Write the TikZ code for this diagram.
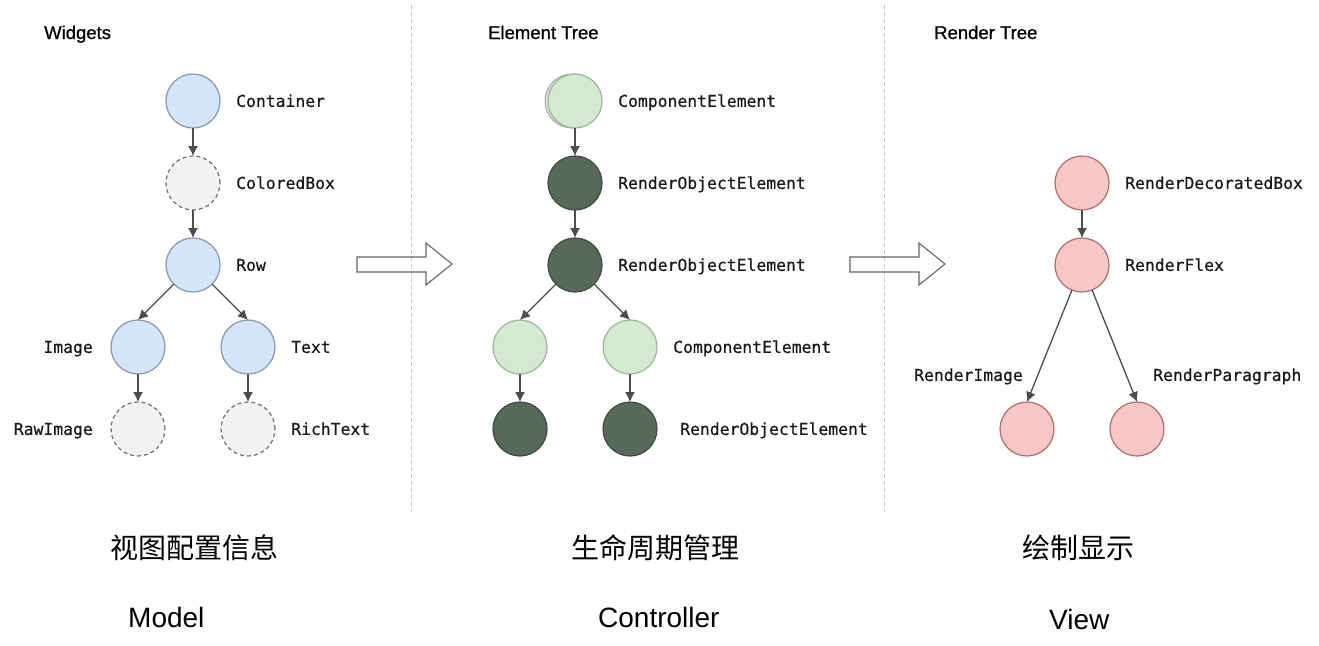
\documentclass[tikz,border=0pt]{standalone}
\usepackage{fontspec}
\setmainfont{Liberation Sans}
\setmonofont[FakeBold=0.6]{DejaVu Sans Mono}
\newfontfamily\titlefont[FakeBold=0.8]{Liberation Sans}
\newfontfamily\cjk{Noto Sans CJK SC}
\usetikzlibrary{arrows.meta}
\definecolor{wblue}{HTML}{D4E4FA}
\definecolor{wblueline}{HTML}{8797AE}
\definecolor{ghostfill}{HTML}{F2F2F2}
\definecolor{ghostline}{HTML}{707070}
\definecolor{elight}{HTML}{D4E8D2}
\definecolor{elightline}{HTML}{9BB899}
\definecolor{edark}{HTML}{58695A}
\definecolor{edarkline}{HTML}{3E4B3F}
\definecolor{rpink}{HTML}{F5C7C6}
\definecolor{rpinkline}{HTML}{B46C6B}
\definecolor{edgegray}{HTML}{4D4D4D}
\definecolor{sepgray}{HTML}{C8C8C8}
\tikzset{
	node/.style     = {circle, minimum size = 54pt, inner sep = 0pt,
		outer sep = 0pt, line width = 1.2pt},
	widget/.style   = {node, draw = wblueline, fill = wblue},
	ghost/.style    = {node, draw = ghostline, fill = ghostfill,
		dash pattern = on 4pt off 3pt},
	comp/.style     = {node, draw = elightline, fill = elight},
	robj/.style     = {node, draw = edarkline, fill = edark},
	render/.style   = {node, draw = rpinkline, fill = rpink},
	lbl/.style      = {anchor = west, inner sep = 0pt, text height = 11.8pt,
		text depth = 0pt, text = black!90,
		font = \ttfamily\fontsize{16.4}{18}\selectfont},
	title/.style    = {anchor = base west, inner sep = 0pt,
		font = \titlefont\fontsize{18.5}{20}\selectfont},
	caption/.style  = {anchor = west, inner sep = 0pt,
		font = \fontsize{28}{30}\selectfont},
	edge/.style     = {->, draw = edgegray, line width = 1.3pt}
}
\newcommand{\hollowarrow}[1]{%
	\draw[line width = 1.1pt, draw = black!60, xshift = #1pt]
	(357,257) -- (426,257) -- (426,243) -- (452,264) -- (426,285)
	-- (426,272) -- (357,272) -- cycle;}

\begin{document}
\begin{tikzpicture}[x = 1pt, y = -1pt, >={Latex[length=10pt, width=10pt]}]
	\useasboundingbox (0,0) rectangle (1319,645);
	
	% separators
	\draw[sepgray, line width = 1pt, dash pattern = on 4pt off 3pt] (411,5) -- (411,512);
	\draw[sepgray, line width = 1pt, dash pattern = on 4pt off 3pt] (884,5) -- (884,512);
	\hollowarrow{0}
	\hollowarrow{493}
	
	\draw
	node at (44,39)[title] (t1) {Widgets}
	node at (488,39)[title] (t2) {Element Tree}
	node at (934,39)[title] (t3) {Render Tree};
	
	% widgets
	\draw
	node at (193,101)[widget] (cont) {}
	node at (193,183)[ghost] (cbox) {}
	node at (193,265)[widget] (row) {}
	node at (138,347)[widget] (img) {}
	node at (248,347)[widget] (txt) {}
	node at (138,429)[ghost] (raw) {}
	node at (248,429)[ghost] (rich) {};
	\draw
	node at (236,101)[lbl] (cont-l) {Container}
	node at (236,183)[lbl] (cbox-l) {ColoredBox}
	node at (236,265)[lbl] (row-l) {Row}
	node at (93,347)[lbl, anchor = east] (img-l) {Image}
	node at (291,347)[lbl] (txt-l) {Text}
	node at (93,429)[lbl, anchor = east] (raw-l) {RawImage}
	node at (291,429)[lbl] (rich-l) {RichText};
	
	\draw[edge](cont) -- (cbox);
	\draw[edge](cbox) -- (row);
	\draw[edge](row) -- (img.north);
	\draw[edge](row) -- (txt.north);
	\draw[edge](img) -- (raw);
	\draw[edge](txt) -- (rich);
	
	% elements
	\draw[draw = gray!70, fill = gray!25, line width = 1pt] (572,101) circle (27pt);
	\draw
	node at (575,101)[comp] (ce1) {}
	node at (575,183)[robj] (ro1) {}
	node at (575,265)[robj] (ro2) {}
	node at (520,347)[comp] (ce2) {}
	node at (630,347)[comp] (ce3) {}
	node at (520,429)[robj] (ro3) {}
	node at (630,429)[robj] (ro4) {};
	\draw
	node at (618,101)[lbl] (ce1-l) {ComponentElement}
	node at (618,183)[lbl] (ro1-l) {RenderObjectElement}
	node at (618,265)[lbl] (ro2-l) {RenderObjectElement}
	node at (673,347)[lbl] (ce3-l) {ComponentElement}
	node at (680,429)[lbl] (ro4-l) {RenderObjectElement};
	
	\draw[edge](ce1) -- (ro1);
	\draw[edge](ro1) -- (ro2);
	\draw[edge](ro2) -- (ce2.north);
	\draw[edge](ro2) -- (ce3.north);
	\draw[edge](ce2) -- (ro3);
	\draw[edge](ce3) -- (ro4);
	
	% render objects
	\draw
	node at (1082,183)[render] (rdb) {}
	node at (1082,265)[render] (rfx) {}
	node at (1027,429)[render] (rim) {}
	node at (1137,429)[render] (rpa) {};
	\draw
	node at (1125,183)[lbl] (rdb-l) {RenderDecoratedBox}
	node at (1125,265)[lbl] (rfx-l) {RenderFlex}
	node at (1023,375)[lbl, anchor = east] (rim-l) {RenderImage}
	node at (1153,375)[lbl] (rpa-l) {RenderParagraph};
	
	\draw[edge](rdb) -- (rfx);
	\draw[edge](rfx) -- (rim.north);
	\draw[edge](rfx) -- (rpa.north);
	
	% captions
	\draw
	node at (110,548)[caption] (c1) {\cjk 视图配置信息}
	node at (571,548)[caption] (c2) {\cjk 生命周期管理}
	node at (1022,548)[caption] (c3) {\cjk 绘制显示}
	node at (128,617)[caption] (m1) {Model}
	node at (598,617)[caption] (m2) {Controller}
	node at (1049,619)[caption] (m3) {View};
	
\end{tikzpicture}
\end{document}
